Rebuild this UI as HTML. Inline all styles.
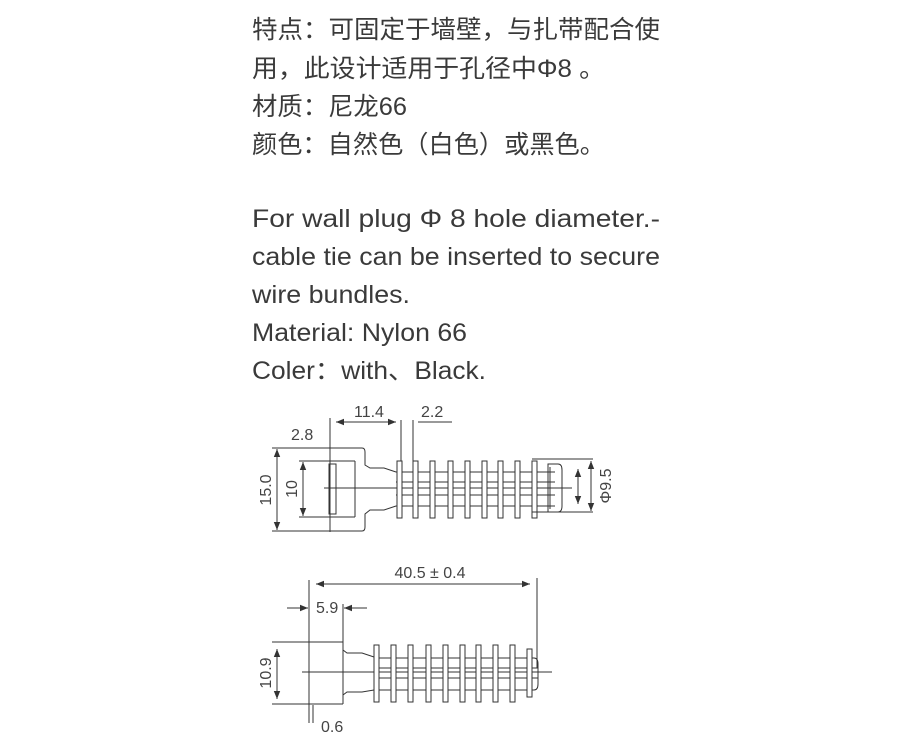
<!DOCTYPE html>
<html><head><meta charset="utf-8"><style>
html,body{margin:0;padding:0;background:#fff}
svg{display:block}
.t{font-family:"Liberation Sans","Noto Sans CJK SC",sans-serif;font-size:25px;fill:#3a3a3a}
.e{font-family:"Liberation Sans",sans-serif;font-size:25px;fill:#3a3a3a}
.d{font-family:"Liberation Sans",sans-serif;font-size:16px;fill:#444}
line,path,rect,polyline{stroke:#333;stroke-width:1;fill:none}
</style></head><body>
<svg width="910" height="746" viewBox="0 0 910 746" xmlns="http://www.w3.org/2000/svg">
<defs><marker id="a" viewBox="0 0 10 10" refX="10" refY="5" markerWidth="8" markerHeight="8" orient="auto-start-reverse"><path d="M0,1 L10,5 L0,9" style="fill:#333;stroke:none"/></marker></defs>
<text class="t" x="252" y="38" textLength="408" lengthAdjust="spacingAndGlyphs">特点：可固定于墙壁，与扎带配合使</text>
<text class="t" x="252" y="77" textLength="353" lengthAdjust="spacingAndGlyphs">用，此设计适用于孔径中Φ8 。</text>
<text class="t" x="252" y="115" textLength="155" lengthAdjust="spacingAndGlyphs">材质：尼龙66</text>
<text class="t" x="252" y="153" textLength="353" lengthAdjust="spacingAndGlyphs">颜色：自然色（白色）或黑色。</text>
<text class="e" x="252" y="227" textLength="408" lengthAdjust="spacingAndGlyphs">For wall plug  Φ  8 hole diameter.-</text>
<text class="e" x="252" y="265" textLength="408" lengthAdjust="spacingAndGlyphs">cable tie can be inserted to secure</text>
<text class="e" x="252" y="303" textLength="158" lengthAdjust="spacingAndGlyphs">wire bundles.</text>
<text class="e" x="252" y="341" textLength="215" lengthAdjust="spacingAndGlyphs">Material: Nylon 66</text>
<text class="e" x="252" y="379" textLength="234" lengthAdjust="spacingAndGlyphs">Coler：with、Black.</text>

<!-- top drawing -->
<line x1="330" y1="418" x2="330" y2="532"/>
<path d="M272,448 H362 Q365,448 365,452 V465 L370,468 H384 L396,472"/>
<path d="M272,531 H362 Q365,531 365,527 V514 L370,510 H384 L396,506"/>
<line x1="299" y1="461" x2="355" y2="461"/>
<line x1="299" y1="517" x2="355" y2="517"/>
<line x1="355" y1="461" x2="355" y2="517"/>
<rect x="329" y="464" width="7" height="50"/>
<line x1="324" y1="488" x2="572" y2="488"/>
<line x1="396" y1="472" x2="555" y2="472"/>
<line x1="396" y1="482" x2="555" y2="482"/>
<line x1="396" y1="495" x2="555" y2="495"/>
<line x1="396" y1="506" x2="555" y2="506"/>
<rect x="397" y="461" width="5" height="57" style="fill:#fff"/>
<rect x="413" y="461" width="5" height="57" style="fill:#fff"/>
<rect x="430" y="461" width="5" height="57" style="fill:#fff"/>
<rect x="448" y="461" width="5" height="57" style="fill:#fff"/>
<rect x="465" y="461" width="5" height="57" style="fill:#fff"/>
<rect x="482" y="461" width="5" height="57" style="fill:#fff"/>
<rect x="498" y="461" width="5" height="57" style="fill:#fff"/>
<rect x="515" y="461" width="5" height="57" style="fill:#fff"/>
<rect x="532" y="461" width="5" height="57" style="fill:#fff"/>
<path d="M548,464 H558 Q562,464 562,470 V506 Q562,512 558,512 H548 Z"/>
<line x1="550" y1="467" x2="550" y2="509"/>
<line x1="532" y1="459" x2="593" y2="459"/>
<line x1="532" y1="512" x2="593" y2="512"/>
<line x1="401" y1="420" x2="401" y2="461"/>
<line x1="413" y1="420" x2="413" y2="461"/>
<line x1="336" y1="422" x2="396" y2="422" marker-start="url(#a)" marker-end="url(#a)"/>
<line x1="418" y1="422" x2="452" y2="422"/>
<text class="d" x="354" y="417">11.4</text>
<text class="d" x="421" y="417">2.2</text>
<text class="d" x="291" y="440">2.8</text>
<line x1="277" y1="449" x2="277" y2="530" marker-start="url(#a)" marker-end="url(#a)"/>
<line x1="303" y1="462" x2="303" y2="516" marker-start="url(#a)" marker-end="url(#a)"/>
<text class="d" transform="translate(271,490) rotate(-90)" text-anchor="middle">15.0</text>
<text class="d" transform="translate(297,489) rotate(-90)" text-anchor="middle">10</text>
<line x1="578" y1="469" x2="578" y2="504" marker-start="url(#a)" marker-end="url(#a)"/>
<line x1="591" y1="461" x2="591" y2="511" marker-start="url(#a)" marker-end="url(#a)"/>
<text class="d" transform="translate(611,486) rotate(-90)" text-anchor="middle">Φ9.5</text>

<!-- bottom drawing -->
<line x1="309" y1="580" x2="309" y2="723"/>
<line x1="313" y1="705" x2="313" y2="723"/>
<line x1="272" y1="642" x2="343" y2="642"/>
<line x1="272" y1="704" x2="343" y2="704"/>
<line x1="343" y1="604" x2="343" y2="704"/>
<path d="M343,650 L347,653 H362 L374,657"/>
<path d="M343,695 L347,692 H362 L374,690"/>
<line x1="302" y1="672" x2="552" y2="672"/>
<path d="M374,658 H534 Q538,658 538,664 V684 Q538,690 534,690 H374"/>
<line x1="374" y1="668" x2="538" y2="668"/>
<line x1="374" y1="678" x2="538" y2="678"/>
<rect x="374" y="645" width="5" height="57" style="fill:#fff"/>
<rect x="391" y="645" width="5" height="57" style="fill:#fff"/>
<rect x="408" y="645" width="5" height="57" style="fill:#fff"/>
<rect x="426" y="645" width="5" height="57" style="fill:#fff"/>
<rect x="443" y="645" width="5" height="57" style="fill:#fff"/>
<rect x="460" y="645" width="5" height="57" style="fill:#fff"/>
<rect x="476" y="645" width="5" height="57" style="fill:#fff"/>
<rect x="493" y="645" width="5" height="57" style="fill:#fff"/>
<rect x="510" y="645" width="5" height="57" style="fill:#fff"/>
<rect x="527" y="649" width="5" height="48" style="fill:#fff"/>
<line x1="537" y1="578" x2="537" y2="668"/>
<line x1="316" y1="584" x2="530" y2="584" marker-start="url(#a)" marker-end="url(#a)"/>
<text class="d" x="430" y="578" text-anchor="middle">40.5 ± 0.4</text>
<line x1="287" y1="608" x2="308" y2="608" marker-end="url(#a)"/>
<line x1="367" y1="608" x2="344" y2="608" marker-end="url(#a)"/>
<text class="d" x="316" y="613">5.9</text>
<line x1="277" y1="649" x2="277" y2="699" marker-start="url(#a)" marker-end="url(#a)"/>
<text class="d" transform="translate(271,673) rotate(-90)" text-anchor="middle">10.9</text>
<text class="d" x="321" y="732">0.6</text>
</svg>
</body></html>
